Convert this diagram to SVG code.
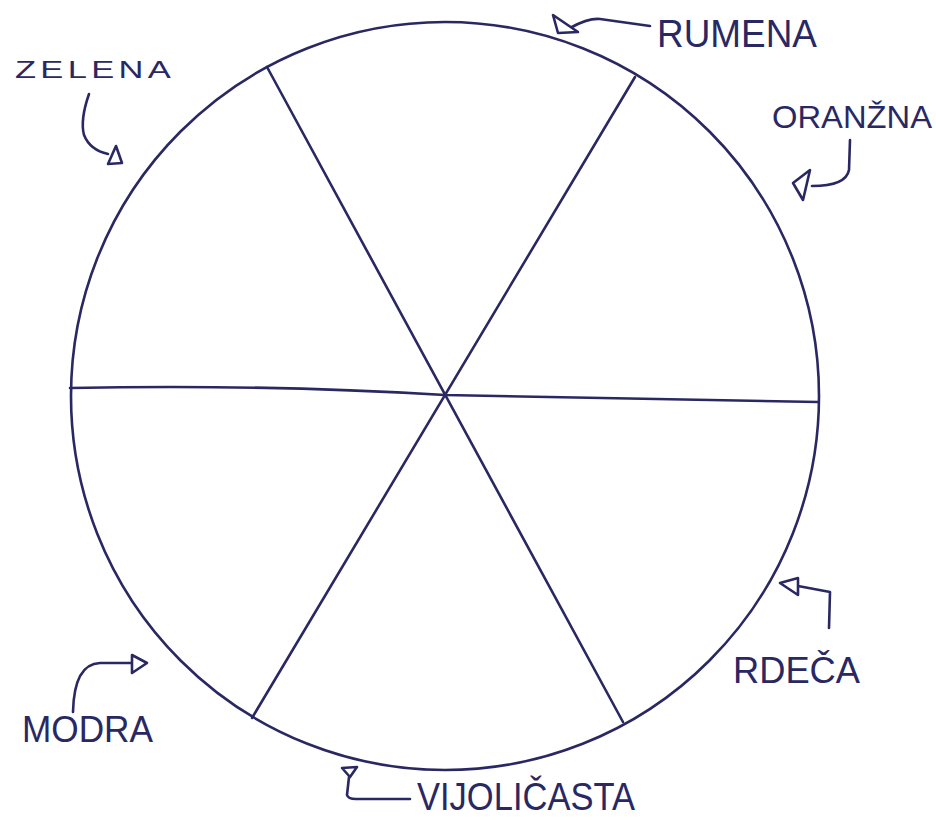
<svg xmlns="http://www.w3.org/2000/svg" width="936" height="822" viewBox="0 0 936 822">
<style>
.ln{fill:none;stroke:#2a2862;stroke-width:2.6;stroke-linecap:round;stroke-linejoin:round}
.ah{fill:#ffffff;stroke:#2a2862;stroke-width:2.6;stroke-linejoin:round}
.lb{font-family:"Liberation Sans","DejaVu Sans",sans-serif;fill:#2a2862;font-weight:normal}
</style>
<rect width="936" height="822" fill="#ffffff"/>
<g id="wheel">
<circle class="ln" cx="445" cy="396" r="374"/>
</g>
<g id="connectors">
<g id="spokes">
<line class="ln" x1="267" y1="67" x2="623" y2="722"/>
<line class="ln" x1="635" y1="77" x2="252" y2="718"/>
<path class="ln" d="M70 388 Q260 384 445 395 Q640 398 818 402"/>
</g>
<g id="arrows">
<path class="ln" d="M650 26 L600 19 Q588 18 570 28"/>
<polygon class="ah" points="553,15 558,33 578,32"/>
<path class="ln" d="M89 94 Q80 120 84 135 Q90 150 108 154"/>
<polygon class="ah" points="108,164 116,146 122,163"/>
<path class="ln" d="M850 140 L849 170 Q846 186 812 186"/>
<polygon class="ah" points="793,183 810,170 803,200"/>
<path class="ln" d="M829 628 L830 592 L798 586"/>
<polygon class="ah" points="780,583 798,578 798,595"/>
<path class="ln" d="M73 712 Q74 664 100 663 L132 663"/>
<polygon class="ah" points="132,655 147,663 132,673"/>
<path class="ln" d="M349 777 L347 795 Q348 799 356 799 L410 799"/>
<polygon class="ah" points="342,768 357,767 350,777"/>
</g>
</g>
<g id="rumena"><text class="lb" x="657" y="47" font-size="39" textLength="160" lengthAdjust="spacingAndGlyphs">RUMENA</text></g>
<g id="zelena"><text class="lb" x="15" y="78" font-size="24" letter-spacing="3" textLength="160" lengthAdjust="spacingAndGlyphs">ZELENA</text></g>
<g id="oranzna"><text class="lb" x="772" y="128" font-size="32" textLength="160" lengthAdjust="spacingAndGlyphs">ORANŽNA</text></g>
<g id="rdeca"><text class="lb" x="733" y="683" font-size="36" textLength="127" lengthAdjust="spacingAndGlyphs">RDEČA</text></g>
<g id="modra"><text class="lb" x="22" y="742" font-size="37" textLength="131" lengthAdjust="spacingAndGlyphs">MODRA</text></g>
<g id="vijolicasta"><text class="lb" x="417" y="810" font-size="38" textLength="218" lengthAdjust="spacingAndGlyphs">VIJOLIČASTA</text></g>
</svg>
